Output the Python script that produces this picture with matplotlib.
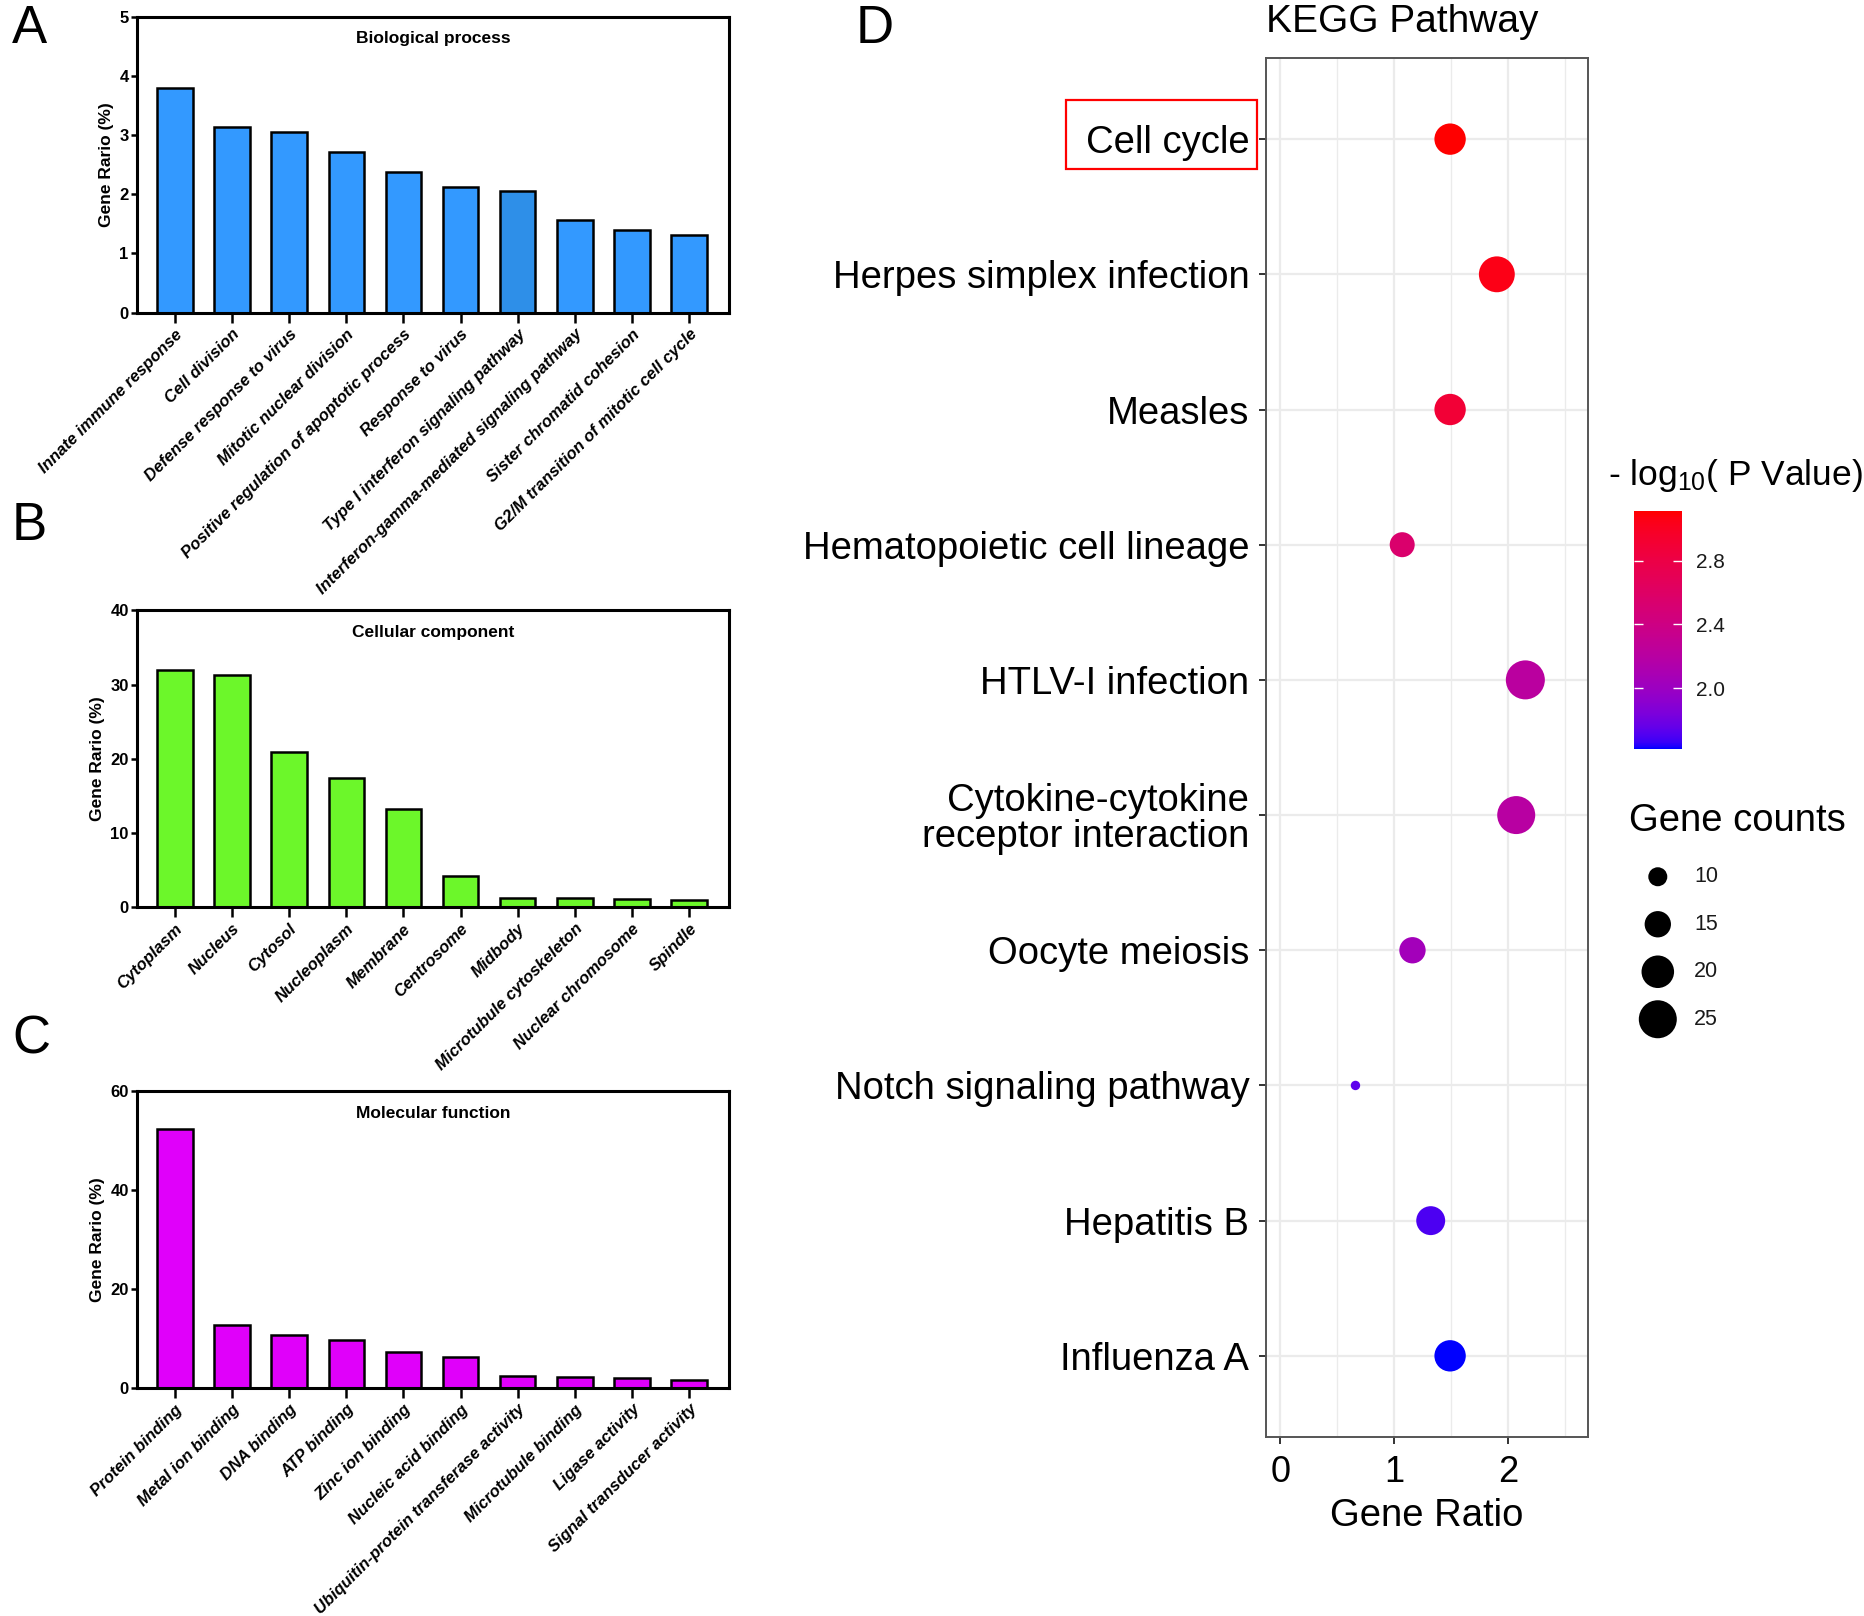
import numpy as np
import matplotlib
matplotlib.use("Agg")
import matplotlib.pyplot as plt
from matplotlib.colors import LinearSegmentedColormap
from matplotlib.ticker import MultipleLocator
from matplotlib.patches import Rectangle

plt.rcParams['font.family'] = ['Liberation Sans', 'DejaVu Sans']
plt.rcParams['mathtext.fontset'] = 'custom'
plt.rcParams['mathtext.rm'] = 'Liberation Sans'
plt.rcParams['mathtext.it'] = 'Liberation Sans'

# ---------------- data ----------------
bp_terms = ["Innate immune response", "Cell division", "Defense response to virus",
            "Mitotic nuclear division", "Positive regulation of apoptotic process",
            "Response to virus", "Type I interferon signaling pathway",
            "Interferon-gamma-mediated signaling pathway", "Sister chromatid cohesion",
            "G2/M transition of mitotic cell cycle"]
bp_ratio = [3.79, 3.13, 3.05, 2.71, 2.38, 2.13, 2.06, 1.56, 1.40, 1.31]

cc_terms = ["Cytoplasm", "Nucleus", "Cytosol", "Nucleoplasm", "Membrane", "Centrosome",
            "Midbody", "Microtubule cytoskeleton", "Nuclear chromosome", "Spindle"]
cc_ratio = [32.0, 31.3, 20.9, 17.4, 13.2, 4.2, 1.3, 1.2, 1.1, 1.0]

mf_terms = ["Protein binding", "Metal ion binding", "DNA binding", "ATP binding",
            "Zinc ion binding", "Nucleic acid binding",
            "Ubiquitin-protein transferase activity", "Microtubule binding",
            "Ligase activity", "Signal transducer activity"]
mf_ratio = [52.3, 12.7, 10.7, 9.6, 7.2, 6.2, 2.4, 2.2, 2.0, 1.7]

kegg_terms = ["Cell cycle", "Herpes simplex infection", "Measles",
              "Hematopoietic cell lineage", "HTLV-I infection",
              "Cytokine-cytokine\nreceptor interaction", "Oocyte meiosis",
              "Notch signaling pathway", "Hepatitis B", "Influenza A"]
kegg_ratio = [1.49, 1.90, 1.49, 1.07, 2.15, 2.07, 1.16, 0.66, 1.32, 1.49]
kegg_count = [19, 23, 19, 14, 26, 25, 15, 5, 17, 19]
kegg_logp = [3.11, 3.05, 2.89, 2.55, 2.22, 2.20, 2.05, 1.74, 1.70, 1.62]

legend_counts = [10, 15, 20, 25]
cbar_ticks = [2.0, 2.4, 2.8]

# ---------------- helpers ----------------
M = np.array([[0.4124, 0.3576, 0.1805],
              [0.2126, 0.7152, 0.0722],
              [0.0193, 0.1192, 0.9505]])
WHITE = np.array([0.95047, 1.0, 1.08883])


def srgb_to_lab(rgb):
    rgb = np.asarray(rgb, float)
    lin = np.where(rgb <= 0.04045, rgb / 12.92, ((rgb + 0.055) / 1.055) ** 2.4)
    t = (M @ lin) / WHITE
    d = 6 / 29
    f = np.where(t > d ** 3, np.cbrt(t), t / (3 * d * d) + 4 / 29)
    return np.array([116 * f[1] - 16, 500 * (f[0] - f[1]), 200 * (f[1] - f[2])])


def lab_to_srgb(lab):
    L, a, b = lab
    fy = (L + 16) / 116
    f = np.array([fy + a / 500, fy, fy - b / 200])
    d = 6 / 29
    t = np.where(f > d, f ** 3, 3 * d * d * (f - 4 / 29))
    lin = np.clip(np.linalg.inv(M) @ (t * WHITE), 0, 1)
    rgb = np.where(lin <= 0.0031308, 12.92 * lin, 1.055 * lin ** (1 / 2.4) - 0.055)
    return np.clip(rgb, 0, 1)


# blue -> red gradient interpolated in Lab (like ggplot's scale_colour_gradient)
lab_lo = srgb_to_lab([0, 0, 1])
lab_hi = srgb_to_lab([1, 0, 0])
steps = np.linspace(0, 1, 128)
cmap = LinearSegmentedColormap.from_list(
    "bluered", [lab_to_srgb(lab_lo + s * (lab_hi - lab_lo)) for s in steps])


def dot_size(count):
    # diameter (px) grows linearly with sqrt(count), returned as marker area in pt^2
    d_px = -13.7 + 10.34 * np.sqrt(np.asarray(count, float))
    return (d_px / 1.389) ** 2


def bar_panel(ax, terms, values, color, title, ymax, ystep, colors=None):
    x = np.arange(len(terms))
    ax.bar(x, values, width=0.62, color=colors if colors else color,
           edgecolor='black', linewidth=1.8, zorder=2)
    ax.set_xlim(-0.66, len(terms) - 0.3)
    ax.set_ylim(0, ymax)
    ax.set_yticks(np.arange(0, ymax + 0.01, ystep))
    ax.set_xticks(x)
    ax.set_xticklabels(terms, rotation=45, ha='right', va='top', rotation_mode='anchor',
                       fontsize=12, fontweight='bold', fontstyle='italic')
    for lab in ax.get_yticklabels():
        lab.set_fontsize(12)
        lab.set_fontweight('bold')
    ax.tick_params(axis='x', length=7, width=1.8, pad=3)
    ax.tick_params(axis='y', length=4, width=1.8, pad=2)
    for sp in ax.spines.values():
        sp.set_linewidth(2.2)
    ax.set_ylabel("Gene Rario (%)", fontsize=12.5, fontweight='bold', labelpad=4)
    ax.text(0.5, 0.925, title, transform=ax.transAxes, ha='center', va='center',
            fontsize=12.5, fontweight='bold')


fig = plt.figure(figsize=(18.65, 16.16), dpi=100)

# ---------------- panels A-C ----------------
axA = fig.add_axes([0.0735, 0.8065, 0.3175, 0.1832])
bp_colors = ['#3399FF'] * len(bp_terms)
bp_colors[6] = '#2E8FE8'
bar_panel(axA, bp_terms, bp_ratio, '#3399FF', "Biological process", 5, 1, bp_colors)

axB = fig.add_axes([0.0735, 0.4385, 0.3175, 0.1838])
bar_panel(axB, cc_terms, cc_ratio, '#6CF72A', "Cellular component", 40, 10)

axC = fig.add_axes([0.0735, 0.1411, 0.3175, 0.1838])
bar_panel(axC, mf_terms, mf_ratio, '#E000FA', "Molecular function", 60, 20)

# ---------------- panel D ----------------
axD = fig.add_axes([0.6788, 0.1108, 0.1727, 0.8533])
ypos = np.arange(len(kegg_terms))[::-1] + 1
sc = axD.scatter(kegg_ratio, ypos, s=dot_size(kegg_count), c=kegg_logp, cmap=cmap,
                 vmin=min(kegg_logp), vmax=max(kegg_logp), linewidths=0, zorder=3)
axD.set_xlim(-0.125, 2.70)
axD.set_ylim(0.4, len(kegg_terms) + 0.6)
axD.set_xticks([0, 1, 2])
axD.xaxis.set_minor_locator(MultipleLocator(0.5))
axD.set_yticks(ypos)
axD.set_yticklabels(kegg_terms, fontsize=27.5)
axD.tick_params(axis='x', labelsize=26, length=5, width=1.4, color='#333333', pad=8)
axD.tick_params(axis='y', length=5, width=1.4, color='#333333', pad=7)
axD.tick_params(which='minor', length=0)
axD.set_axisbelow(True)
axD.grid(which='major', color='#EBEBEB', linewidth=1.6)
axD.grid(which='minor', axis='x', color='#EBEBEB', linewidth=1.0)
for sp in axD.spines.values():
    sp.set_color('#555555')
    sp.set_linewidth(1.4)
axD.set_xlabel("Gene Ratio", fontsize=27.5, labelpad=6)
axD.set_title("KEGG Pathway", fontsize=28, loc='left', pad=19)

for lab in axD.get_yticklabels():
    if "\n" in lab.get_text():
        lab.set_linespacing(1.0)

# red box around the highlighted pathway label
fig.patches.append(Rectangle((1066 / 1865, 1 - 169 / 1616), 191 / 1865, 69 / 1616,
                             transform=fig.transFigure, fill=False,
                             edgecolor='red', linewidth=1.6))

# colour bar
cax = fig.add_axes([0.8761, 0.5365, 0.0257, 0.1473])
cb = fig.colorbar(sc, cax=cax, ticks=cbar_ticks)
cb.outline.set_visible(False)
cb.ax.set_yticklabels([f"{t:.1f}" for t in cbar_ticks])
cax.tick_params(direction='in', color='white', width=1.0, length=6.5,
                left=True, right=True, labelsize=15, labelcolor='#1a1a1a', pad=10)
fig.text(1608 / 1865, 1 - 475 / 1616, "- log$_{10}$( P Value)", fontsize=25.5,
         ha='left', va='center')

# size legend
fig.text(1629 / 1865, 1 - 821 / 1616, "Gene counts", fontsize=27.5, ha='left', va='center')
axL = fig.add_axes([1620 / 1865, 1 - 1043 / 1616, 140 / 1865, 190 / 1616])
axL.axis('off')
axL.set_xlim(0, 1)
axL.set_ylim(len(legend_counts) - 0.5, -0.5)
axL.scatter(np.full(len(legend_counts), 0.27), np.arange(len(legend_counts)),
            s=dot_size(legend_counts), color='black', linewidths=0)
for i, c in enumerate(legend_counts):
    axL.text(0.53, i, str(c), fontsize=15.5, va='center', ha='left', color='#1a1a1a')

# panel letters
fig.text(12 / 1865, 1 - 4 / 1616, "A", fontsize=38, va='top', ha='left')
fig.text(12 / 1865, 1 - 501 / 1616, "B", fontsize=38, va='top', ha='left')
fig.text(12 / 1865, 1 - 1015 / 1616, "C", fontsize=38, va='top', ha='left')
fig.text(856 / 1865, 1 - 4 / 1616, "D", fontsize=38, va='top', ha='left')

fig.savefig("out.png", dpi=100)
